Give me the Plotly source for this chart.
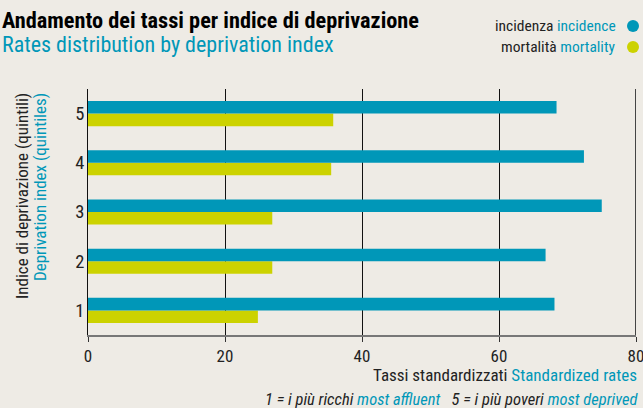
import plotly.graph_objects as go

categories = ["1", "2", "3", "4", "5"]
incidence = [68.1, 66.8, 75.0, 72.4, 68.4]
mortality = [24.8, 26.9, 26.9, 35.5, 35.8]
x_ticks = [0, 20, 40, 60, 80]

TEAL = "#0097B8"
LIME = "#CCD200"
BG = "#EEEBE5"
FONT = "Liberation Sans Narrow, Roboto Condensed, Arial Narrow, Roboto, sans-serif"

W, H = 643, 408
ML, MR, MT, MB = 88, 7, 89, 73
pw = W - ML - MR
ph = H - MT - MB
def px(x): return (x - ML) / pw
def py(y): return ((H - y) - MB) / ph

fig = go.Figure()
fig.add_trace(go.Bar(y=categories, x=mortality, orientation="h", name="mortalità mortality",
                     marker=dict(color=LIME, line=dict(width=0))))
fig.add_trace(go.Bar(y=categories, x=incidence, orientation="h", name="incidenza incidence",
                     marker=dict(color=TEAL, line=dict(width=0))))

fig.update_layout(
    width=W, height=H,
    paper_bgcolor=BG, plot_bgcolor=BG,
    margin=dict(l=ML, r=MR, t=MT, b=MB, autoexpand=False),
    barmode="group", bargap=0.49, bargroupgap=0,
    showlegend=False,
    font=dict(family=FONT, color="#222", size=17),
    xaxis=dict(range=[0, 80], tickvals=x_ticks, ticktext=[str(v) for v in x_ticks],
               showgrid=True, gridcolor="#111", gridwidth=1,
               showline=True, linecolor="#777", linewidth=2,
               ticks="outside", ticklen=5, tickcolor="#333", tickwidth=1,
               ticklabeloverflow="allow",
               zeroline=False, tickfont=dict(size=17, family=FONT, color="#222")),
    yaxis=dict(type="category", categoryorder="array", categoryarray=categories,
               range=[-0.5, 4.5], showgrid=False, showline=True, linecolor="#111", linewidth=1,
               ticks="", ticklabelstandoff=-1, tickfont=dict(size=18.5, family=FONT, color="#222")),
)

fig.add_shape(type="line", xref="x", yref="paper", x0=80, x1=80, y0=0, y1=1,
              line=dict(color="#444", width=2))

ann = [
    dict(text="<b>Andamento dei tassi per indice di deprivazione</b>", x=0, y=20,
         xanchor="left", yanchor="middle", font=dict(size=22.3, color="#000", family=FONT)),
    dict(text="Rates distribution by deprivation index", x=0, y=45,
         xanchor="left", yanchor="middle", font=dict(size=22, color=TEAL, family=FONT)),
    dict(text=f"incidenza <span style='color:{TEAL}'>incidence</span>", x=618, y=26,
         xanchor="right", yanchor="middle", font=dict(size=15.5, color="#222", family=FONT)),
    dict(text=f"mortalità <span style='color:{TEAL}'>mortality</span>", x=618, y=47,
         xanchor="right", yanchor="middle", font=dict(size=15.5, color="#222", family=FONT)),
    dict(text="Indice di deprivazione (quintili)", x=22, y=91, textangle=-90,
         xanchor="center", yanchor="top", font=dict(size=17, color="#222", family=FONT)),
    dict(text="Deprivation index (quintiles)", x=40, y=91, textangle=-90,
         xanchor="center", yanchor="top", font=dict(size=17, color=TEAL, family=FONT)),
    dict(text=f"Tassi standardizzati <span style='color:{TEAL}'>Standardized rates</span>",
         x=639, y=375, xanchor="right", yanchor="middle",
         font=dict(size=17, color="#222", family=FONT)),
    dict(text=f"<i>1 = i più ricchi <span style='color:{TEAL}'>most affluent</span>   5 = i più poveri <span style='color:{TEAL}'>most deprived</span></i>",
         x=640, y=399, xanchor="right", yanchor="middle",
         font=dict(size=16.5, color="#222", family=FONT)),
]
for a in ann:
    a.update(xref="paper", yref="paper", showarrow=False)
    a["x"] = px(a["x"])
    a["y"] = py(a["y"])
fig.update_layout(annotations=ann)

for cy, col in [(26, TEAL), (47, LIME)]:
    fig.add_shape(type="circle", xref="paper", yref="paper",
                  x0=px(627), x1=px(639), y0=py(cy + 6), y1=py(cy - 6),
                  fillcolor=col, line=dict(width=0))

fig.write_html("out.html", config={"displayModeBar": False},
               post_script="document.body.style.margin='0';document.body.style.overflow='hidden';")
